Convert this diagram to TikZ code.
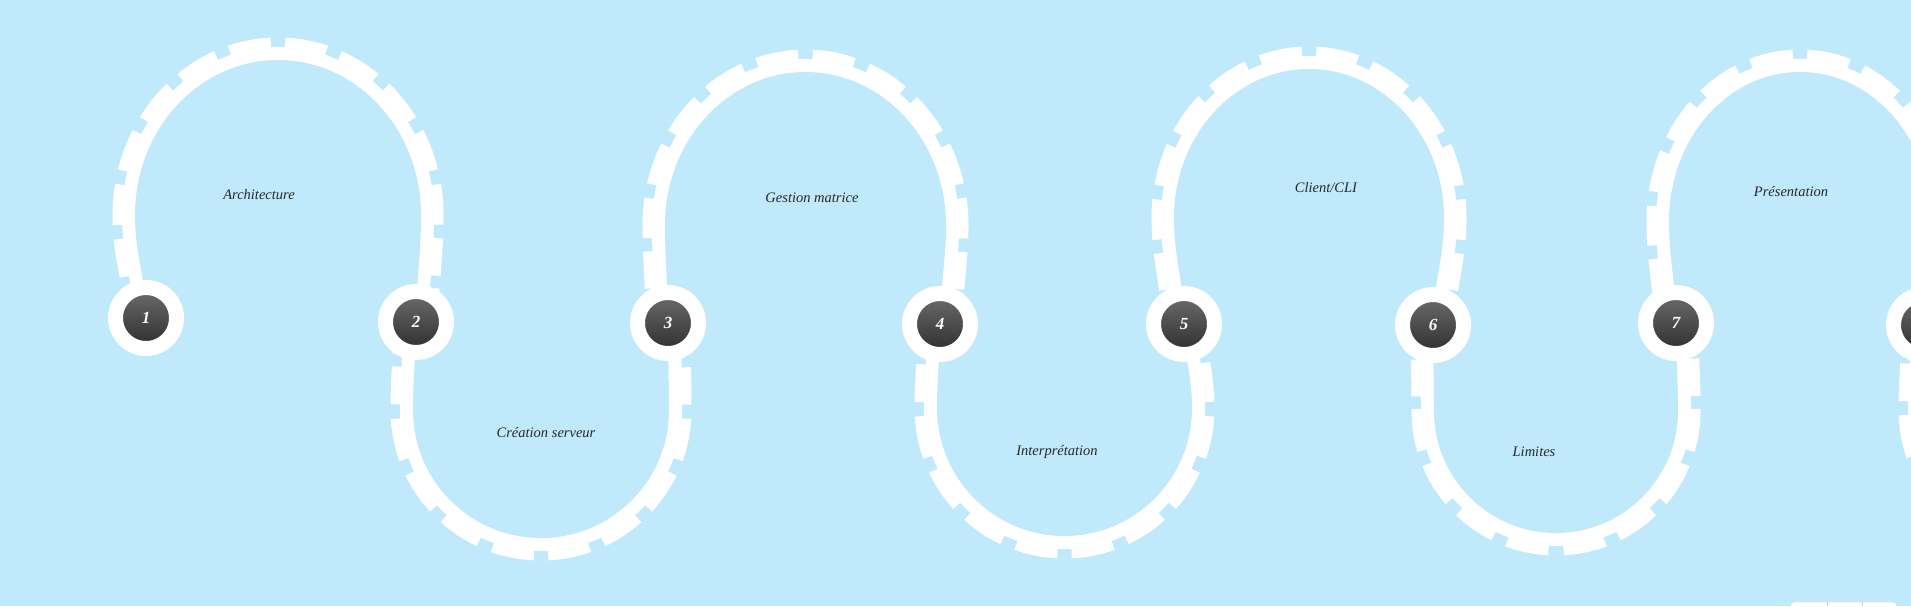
\documentclass[tikz,border=0pt]{standalone}
\usepackage{fontspec}
\setmainfont{Liberation Serif}
\usetikzlibrary{calc}
\definecolor{sky}{RGB}{192,234,252}
\definecolor{ink}{RGB}{40,40,40}

\begin{document}
\begin{tikzpicture}[x=1pt,y=-1pt,
    teeth/.style={draw=white,line width=45pt,dash pattern=on 37pt off 13pt,dash phase=43.5pt},
    band/.style={draw=white,line width=26pt},
    stop/.style={circle,minimum size=61pt,inner sep=0pt,draw=white,line width=15pt,
      top color=black!57,bottom color=black!83,text=white,
      font=\bfseries\itshape\fontsize{17}{18}\selectfont},
    lbl/.style={text=ink,font=\itshape\fontsize{14.5}{16}\selectfont}]
  \useasboundingbox (0,0) rectangle (1911,606);
  \clip (0,0) rectangle (1911,606);
  \fill[sky] (0,0) rectangle (1911,606);

  % stops along the track
  \coordinate (p1) at (146,318);
  \coordinate (p2) at (416,322);
  \coordinate (p3) at (668,323);
  \coordinate (p4) at (940,324);
  \coordinate (p5) at (1184,324);
  \coordinate (p6) at (1433,325);
  \coordinate (p7) at (1676,323);
  \coordinate (p8) at (1924,325);
  \coordinate (p9) at (2172,325);

  % loops: from/to/inner left/inner right/apex/widest
  \foreach \a/\b/\xl/\xr/\yt/\yw in {1/2/135/421/60/215, 2/3/413/669/538/410,
      3/4/665/946/72/225, 4/5/937/1192/536/408, 5/6/1174/1444/69/218,
      6/7/1434/1678/533/411, 7/8/1669/1931/72/221, 8/9/1921/2175/535/410}{
    \coordinate (L) at (\xl,\yw);
    \coordinate (R) at (\xr,\yw);
    \coordinate (T) at ({(\xl+\xr)/2},\yt);
    \coordinate (C) at (\xl,\yt);
    \coordinate (D) at (\xr,\yt);
    \def\trackpath{(p\a) .. controls ($(p\a)!.4!(p\a |- L)$) and ($(L)!.4!(L |- p\a)$) .. (L)
      .. controls ($(L)!.5523!(C)$) and ($(T)!.5523!(C)$) .. (T)
      .. controls ($(T)!.5523!(D)$) and ($(R)!.5523!(D)$) .. (R)
      .. controls ($(R)!.4!(R |- p\b)$) and ($(p\b)!.4!(p\b |- R)$) .. (p\b)}
    \path[teeth] (T) .. controls ($(T)!.5523!(C)$) and ($(L)!.5523!(C)$) .. (L)
      .. controls ($(L)!.4!(L |- p\a)$) and ($(p\a)!.4!(p\a |- L)$) .. (p\a);
    \path[teeth] (T) .. controls ($(T)!.5523!(D)$) and ($(R)!.5523!(D)$) .. (R)
      .. controls ($(R)!.4!(R |- p\b)$) and ($(p\b)!.4!(p\b |- R)$) .. (p\b);
    \path[band] \trackpath;
    \fill[sky] \trackpath -- cycle;
  }

  \node[stop] (n1) at (p1) {1};
  \node[stop] (n2) at (p2) {2};
  \node[stop] (n3) at (p3) {3};
  \node[stop] (n4) at (p4) {4};
  \node[stop] (n5) at (p5) {5};
  \node[stop] (n6) at (p6) {6};
  \node[stop] (n7) at (p7) {7};
  \node[stop] (n8) at (p8) {};

  \node[lbl] (t1) at (259,195) {Architecture};
  \node[lbl] (t2) at (546,433) {Création serveur};
  \node[lbl] (t3) at (812,198) {Gestion matrice};
  \node[lbl] (t4) at (1057,452) {Interprétation};
  \node[lbl] (t5) at (1326,188) {Client/CLI};
  \node[lbl] (t6) at (1534,452) {Limites};
  \node[lbl] (t7) at (1791,192) {Présentation};

  \draw[gray!35,fill=white,rounded corners=4pt] (1790,602) rectangle (1897,640);
  \draw[gray!35] (1827,602) -- (1827,606) (1862,602) -- (1862,606);
\end{tikzpicture}
\end{document}
